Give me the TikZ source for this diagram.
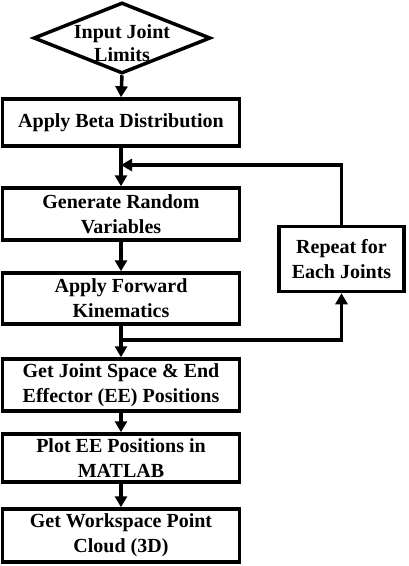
\documentclass[tikz,border=0pt]{standalone}
\usepackage{fontspec}
\setmainfont{Liberation Serif}
\usetikzlibrary{shapes.geometric,arrows.meta}

\tikzset{
    stepbox/.style={draw, line width=3.5pt, minimum width=237pt, align=center,
        font=\bfseries\fontsize{20}{25}\selectfont, inner sep=2pt},
    arr/.style={line width=3.5pt, -{Triangle[length=11pt,width=12pt]}},
}

\begin{document}
\begin{tikzpicture}[x=1pt, y=1pt]
            \useasboundingbox (0,0) rectangle (408,-566);

            \def\Xa{121};
            \def\Xb{341.5};

            \def\Ymerge{-165}; % loop back
            \def\Ysplit{-340}; % branch

            % input diamond
            \node[draw, diamond, line width=3.5pt, minimum width=177pt, minimum height=71pt, inner sep=0pt] (input) at (\Xa + 1, -38) {};
            \node[align=center, font=\bfseries\fontsize{20}{23}\selectfont] (inputtxt) at (\Xa + 1, -43) {Input Joint\\Limits};

            % beta distribution
            \node[stepbox, minimum height=47pt] (beta) at (\Xa, -122.5) {Apply Beta Distribution};

            % random variables
            \node[stepbox, minimum height=52pt] (rand) at (\Xa, -214) {Generate Random\\Variables};

            % forward kinematics
            \node[stepbox, minimum height=51pt] (fk) at (\Xa, -298.5) {Apply Forward\\Kinematics};

            % joint space
            \node[stepbox, minimum height=52pt] (space) at (\Xa, -385) {Get Joint Space \& End\\Effector (EE) Positions};

            % plot
            \node[stepbox, minimum height=48pt] (plot) at (\Xa, -458) {Plot EE Positions in\\MATLAB};

            % point cloud
            \node[stepbox, minimum height=53pt] (cloud) at (\Xa, -535.5) {Get Workspace Point\\Cloud (3D)};

            % repeat
            \node[stepbox, minimum width=125pt, minimum height=65pt] (rep) at (\Xb, -259) {Repeat for\\Each Joints};

            \coordinate (merge) at (\Xa, \Ymerge);
            \coordinate (split) at (\Xa, \Ysplit);

            % main flow
            \draw[arr] (input.south) -- (beta.north);
            \draw[arr] (beta.south) -- (rand.north);
            \draw[arr] (rand.south) -- (fk.north);
            \draw[arr] (fk.south) -- (space.north);
            \draw[arr] (space.south) -- (plot.north);
            \draw[arr] (plot.south) -- (cloud.north);

            % loop
            \draw[arr] (split) -| (rep.south);
            \draw[arr] (rep.north) |- (merge);

        \end{tikzpicture}
\end{document}
